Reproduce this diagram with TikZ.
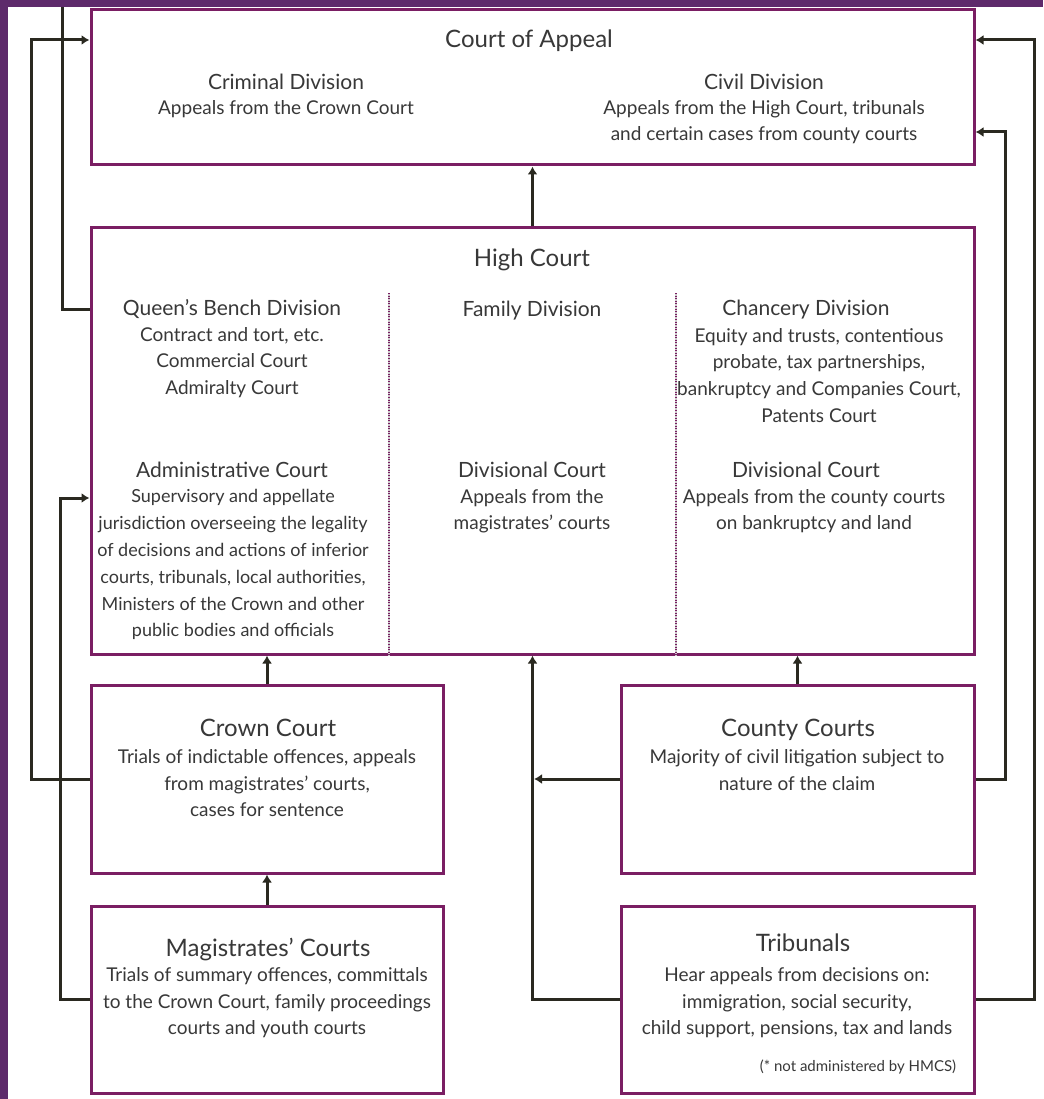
\documentclass[tikz,border=0pt]{standalone}
\usepackage{fontspec}
\setmainfont{Lato}
\usetikzlibrary{arrows.meta}
\definecolor{bgpurple}{HTML}{5E2A6B}
\definecolor{boxpurple}{HTML}{7A1E63}
\definecolor{linec}{HTML}{2A2920}
\definecolor{textc}{HTML}{383838}
\newcommand{\bigf}{\fontsize{24}{27}\selectfont}
\newcommand{\headf}{\fontsize{21}{27}\selectfont}
\newcommand{\bodyf}{\fontsize{19}{26.8}\selectfont}
\newcommand{\adminf}{\fontsize{18}{26.8}\selectfont}
\newcommand{\notef}{\fontsize{15}{16}\selectfont}
\begin{document}
\begin{tikzpicture}[x=1pt,y=-1pt,
  box/.style={draw=boxpurple, line width=3pt, fill=white, rectangle, inner sep=0},
  conn/.style={draw=linec, line width=3pt},
  arr/.style={conn, -{Latex[length=8pt,width=10pt]}},
  txt/.style={align=center, inner sep=0, anchor=north, text=textc},
  divider/.style={draw=boxpurple, line width=1.8pt, dash pattern=on 1pt off 1.6pt}
]
\useasboundingbox (0,0) rectangle (1043,1099);
\fill[bgpurple] (0,0) rectangle (1043,1099);
\fill[white] (8,7) rectangle (1043,1099);

% boxes
\node[box, minimum width=883pt, minimum height=155pt] (coa) at (532.5,87.5) {};
\node[box, minimum width=883pt, minimum height=426pt] (hc) at (532.5,441) {};
\node[box, minimum width=352pt, minimum height=188pt] (crown) at (267,779) {};
\node[box, minimum width=353pt, minimum height=188pt] (county) at (797.5,779) {};
\node[box, minimum width=352pt, minimum height=187pt] (mag) at (267,999.5) {};
\node[box, minimum width=353pt, minimum height=187pt] (trib) at (797.5,999.5) {};

% dividers in High Court
\coordinate (d1top) at (389,293);
\coordinate (d2top) at (676,293);
\draw[draw=gray!40, line width=1.8pt] (d1top) -- (d1top |- hc.south);
\draw[draw=gray!40, line width=1.8pt] (d2top) -- (d2top |- hc.south);
\draw[divider] (d1top) -- (d1top |- hc.south);
\draw[divider] (d2top) -- (d2top |- hc.south);

% connectors
\coordinate (qbout) at (62,7);
\draw[conn] (hc.west |- 0,309) -| (qbout);
\draw[arr] (crown.west) -- ++(-58,0) |- (coa.west |- 0,40);
\draw[arr] (mag.west) -- ++(-29,0) |- (hc.west |- 0,498);
\draw[arr] (hc.north) -- (coa.south);
\draw[arr] (crown.north) -- (crown.north |- hc.south);
\draw[arr] (mag.north) -- (crown.south);
\draw[arr] (county.north) -- (county.north |- hc.south);
\draw[arr] (trib.west) -| (hc.south);
\draw[arr] (county.west) -- ([xshift=1.5pt]hc.south |- county.west);
\draw[arr] (county.east) -- ++(30,0) |- (coa.east |- 0,132);
\draw[arr] (trib.east) -- ++(59,0) |- (coa.east |- 0,40);

% texts
\node[txt, font=\bigf] (coaT) at (529,30) {Court of Appeal};
\node[txt, font=\headf] (crimH) at (286,73.5) {Criminal Division};
\node[txt, font=\bodyf] (crimB) at (286,100) {Appeals from the Crown Court};
\node[txt, font=\headf] (civH) at (764,73.5) {Civil Division};
\node[txt, font=\bodyf] (civB) at (764,100) {Appeals from the High Court, tribunals\\and certain cases from county courts};

\node[txt, font=\bigf] (hcT) at (532,249) {High Court};
\node[txt, font=\headf] (qbH) at (232,299.5) {Queen's Bench Division};
\node[txt, font=\bodyf] (qbB) at (232,327) {Contract and tort, etc.\\Commercial Court\\Admiralty Court};
\node[txt, font=\headf] (famH) at (532,300.5) {Family Division};
\node[txt, font=\headf] (chH) at (806,299.5) {Chancery Division};
\node[txt, font=\bodyf] (chB) at (819,328) {Equity and trusts, contentious\\probate, tax partnerships,\\bankruptcy and Companies Court,\\Patents Court};
\node[txt, font=\headf] (adH) at (232,461.5) {Administrative Court};
\node[txt, font=\adminf] (adB) at (233,489.5) {Supervisory and appellate\\jurisdiction overseeing the legality\\of decisions and actions of inferior\\courts, tribunals, local authorities,\\Ministers of the Crown and other\\public bodies and officials};
\node[txt, font=\headf] (dmH) at (532,461.5) {Divisional Court};
\node[txt, font=\bodyf] (dmB) at (532,489) {Appeals from the\\magistrates' courts};
\node[txt, font=\headf] (drH) at (806,461.5) {Divisional Court};
\node[txt, font=\bodyf] (drB) at (814,489) {Appeals from the county courts\\on bankruptcy and land};

\node[txt, font=\bigf] (crT) at (268,719) {Crown Court};
\node[txt, font=\bodyf] (crB) at (267,749) {Trials of indictable offences, appeals\\from magistrates' courts,\\cases for sentence};
\node[txt, font=\bigf] (ccT) at (798,719) {County Courts};
\node[txt, font=\bodyf] (ccB) at (797,749) {Majority of civil litigation subject to\\nature of the claim};
\node[txt, font=\bigf] (mgT) at (268,938) {Magistrates' Courts};
\node[txt, font=\bodyf] (mgB) at (267,967) {Trials of summary offences, committals\\to the Crown Court, family proceedings\\courts and youth courts};
\node[txt, font=\bigf] (trT) at (803,934) {Tribunals};
\node[txt, font=\bodyf] (trB) at (797,967) {Hear appeals from decisions on:\\immigration, social security,\\child support, pensions, tax and lands};
\node[txt, font=\notef] (note) at (858,1060) {(* not administered by HMCS)};
\end{tikzpicture}
\end{document}
